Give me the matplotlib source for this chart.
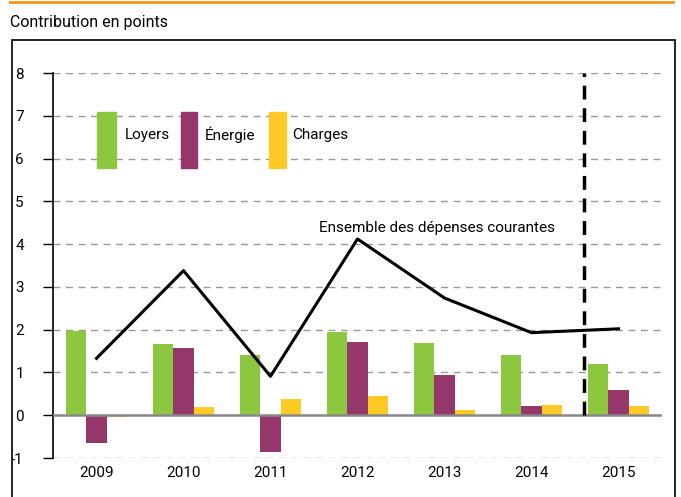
import matplotlib
matplotlib.use("Agg")
import matplotlib.pyplot as plt
import numpy as np
from matplotlib.patches import Rectangle
from matplotlib.lines import Line2D

years = ["2009", "2010", "2011", "2012", "2013", "2014", "2015"]
loyers = [1.97, 1.67, 1.41, 1.95, 1.69, 1.41, 1.20]
energie = [-0.64, 1.58, -0.87, 1.72, 0.95, 0.22, 0.60]
charges = [-0.04, 0.20, 0.39, 0.46, 0.13, 0.25, 0.22]
ensemble = [1.33, 3.38, 0.91, 4.12, 2.74, 1.93, 2.02]
yticks = [-1, 0, 1, 2, 3, 4, 5, 6, 7, 8]

GREEN = "#8DC63F"
PURPLE = "#96376B"
YELLOW = "#FFC926"

plt.rcParams['font.family'] = ['Roboto', 'DejaVu Sans']

fig = plt.figure(figsize=(6.81, 4.97), dpi=100)
ax = fig.add_axes([53/681, 1-458/497, (662-53)/681, (458-73)/497])

x = np.arange(len(years))
w = 0.23
ax.bar(x - w, loyers, w, color=GREEN, zorder=3)
ax.bar(x, energie, w, color=PURPLE, zorder=3)
ax.bar(x + w, charges, w, color=YELLOW, zorder=3)
ax.plot(x, ensemble, color="black", lw=2.2, zorder=4)

ax.set_xlim(-0.5, 6.5)
ax.set_ylim(-1, 8)
ax.set_yticks(yticks)
ax.set_yticklabels([str(v) for v in yticks], fontsize=11)
ax.set_xticks(x)
ax.set_xticklabels(years, fontsize=11)
ax.tick_params(axis='x', length=0, pad=6)
ax.tick_params(axis='y', length=7, width=1, direction='out', pad=14)
for lab in ax.get_yticklabels():
    lab.set_horizontalalignment('right')

for v in yticks:
    if v != 0:
        ax.axhline(v, color="#999999", lw=1, ls=(0, (5, 4)), zorder=1)
ax.axhline(0, color="#888888", lw=1.8, zorder=5)

for s in ['top', 'right', 'bottom']:
    ax.spines[s].set_visible(False)
ax.spines['left'].set_linewidth(1.2)

# vertical dashed separator
ax.plot([5.6, 5.6], [0, 8], color="black", lw=2.5, ls=(0, (4, 2.5)), zorder=6)

# legend-like boxes
leg = [("Loyers", GREEN, 0.01, 0.21, 0.33),
       ("Énergie", PURPLE, 0.97, 0.19, 1.24),
       ("Charges", YELLOW, 1.98, 0.20, 2.25)]
for name, col, xr, wr, xt in leg:
    ax.add_patch(Rectangle((xr, 5.77), wr, 1.32, color=col, zorder=3))
    ax.text(xt, 6.55, name, fontsize=11, va='center', ha='left')

ax.text(2.56, 4.37, "Ensemble des dépenses courantes", fontsize=11, ha='left', va='center')

# figure decorations
fig.add_artist(Line2D([10/681, 673/681], [1-1.5/497, 1-1.5/497], color="#F7941D", lw=2))
fig.text(10/681, 1-22/497, "Contribution en points", fontsize=11.5, va='center', ha='left')
fig.add_artist(Rectangle((12/681, -0.01), (675-12)/681, 1-40/497+0.01, fill=False,
                         edgecolor="black", lw=1.2, transform=fig.transFigure))

fig.savefig("out.png", dpi=100)
